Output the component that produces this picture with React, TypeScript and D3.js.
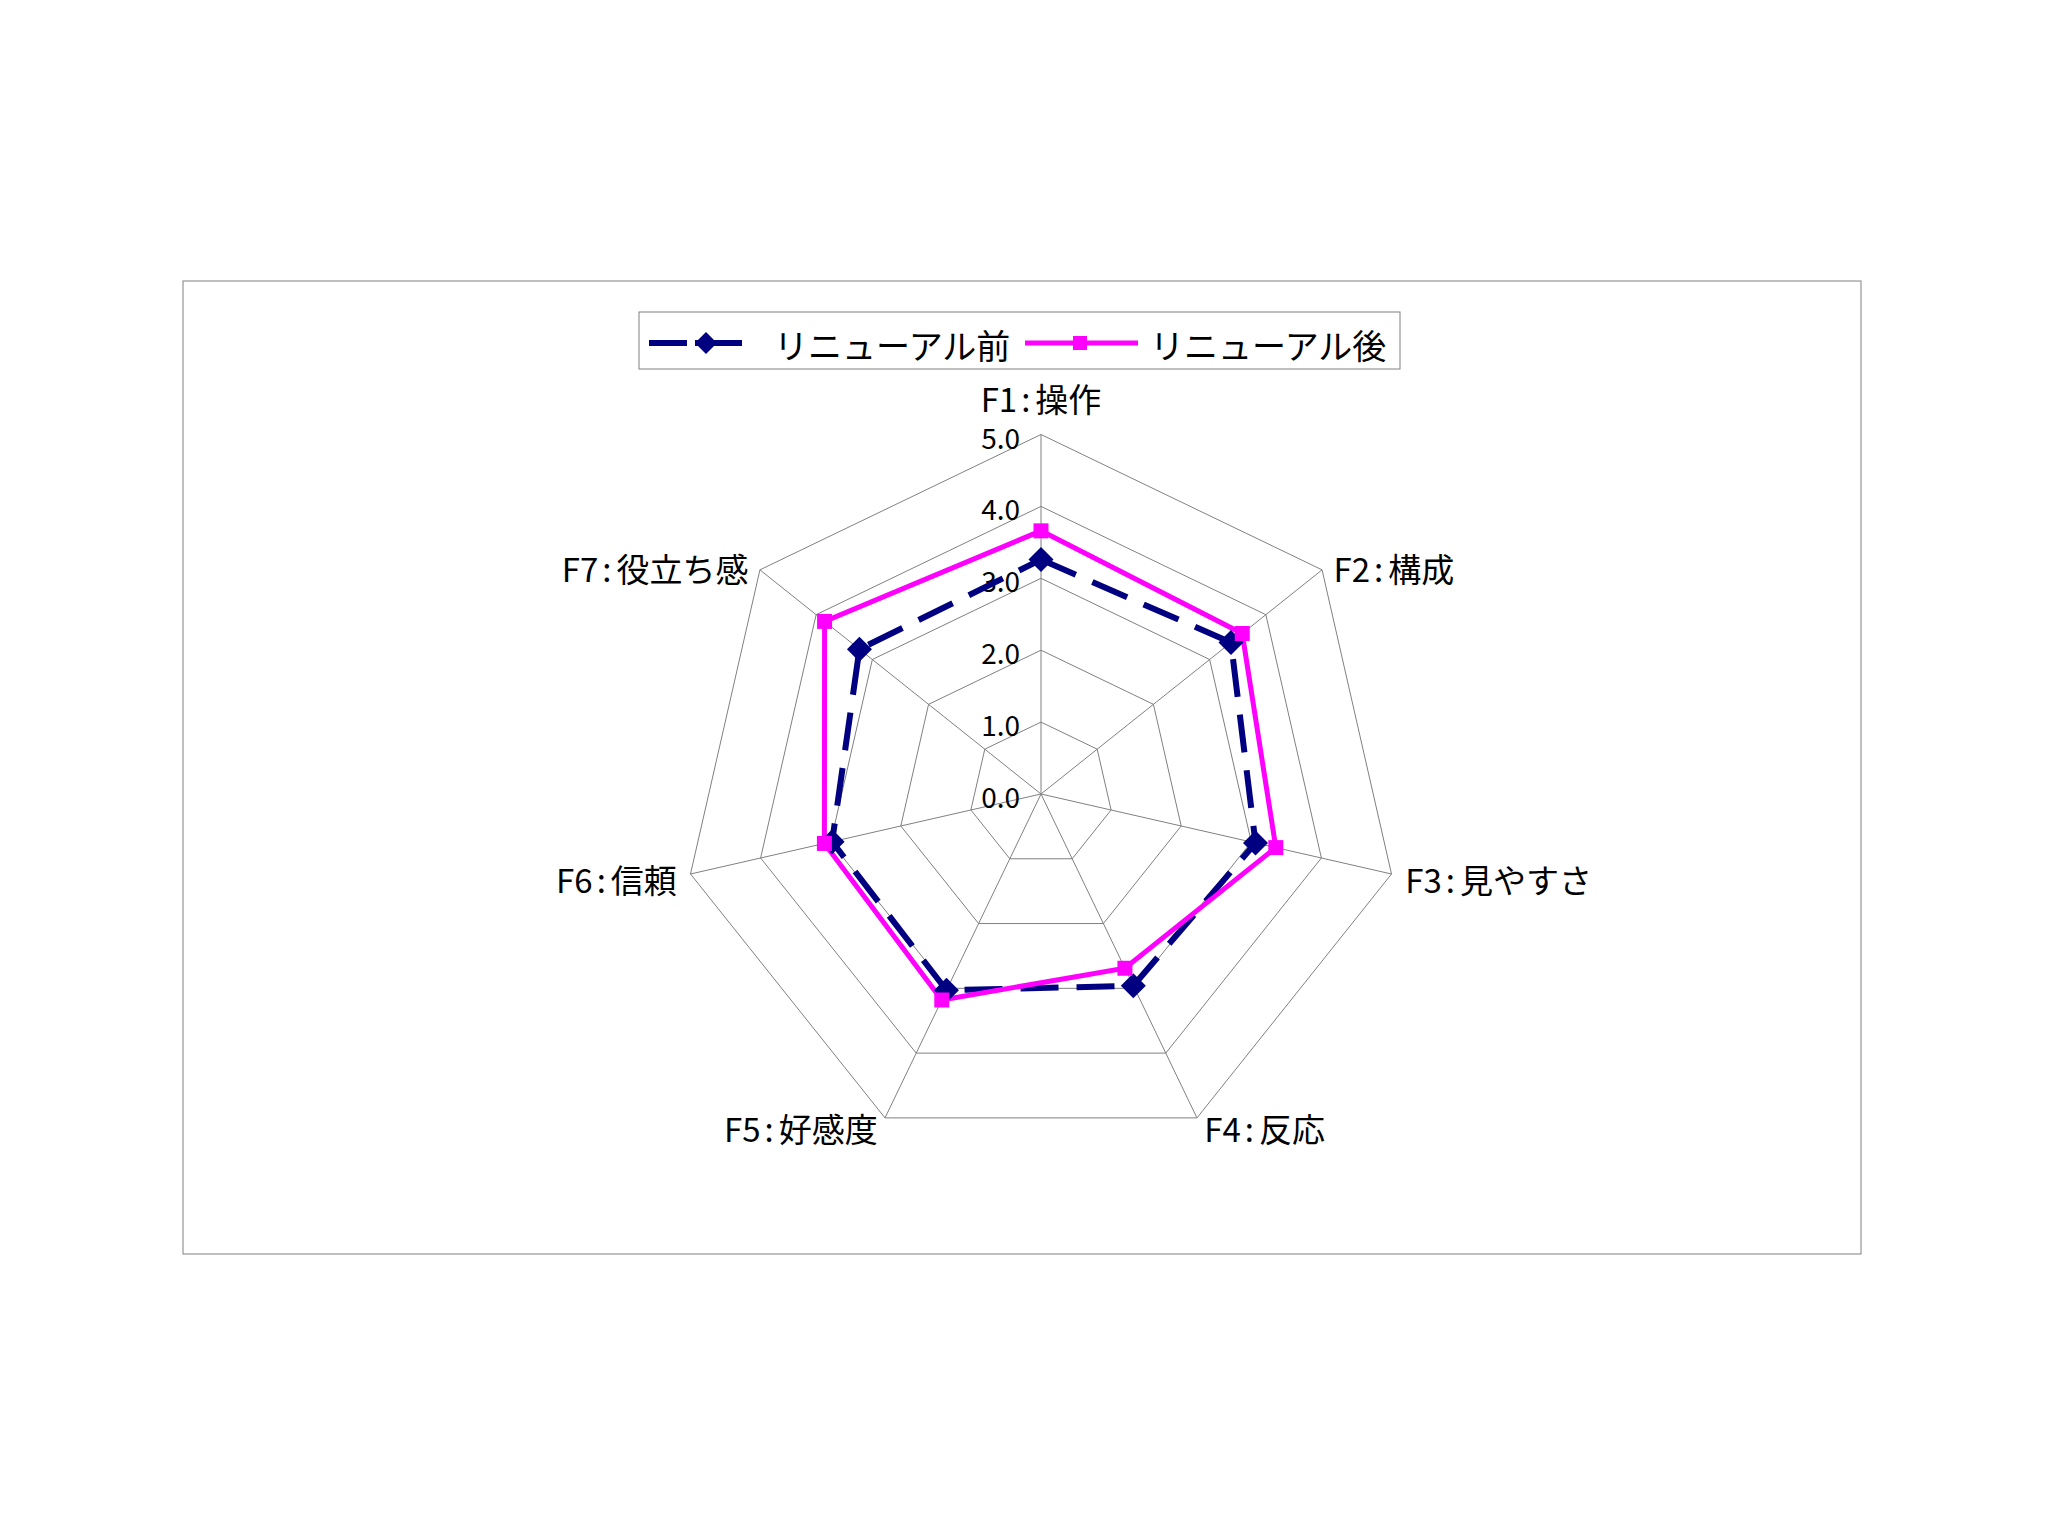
import * as d3 from "d3";

// values
const categories = ["F1:操作", "F2:構成", "F3:見やすさ", "F4:反応", "F5:好感度", "F6:信頼", "F7:役立ち感"];
const beforeValues = [3.26, 3.38, 3.06, 2.96, 3.03, 2.98, 3.23];
const afterValues = [3.66, 3.58, 3.35, 2.69, 3.18, 3.09, 3.85];
const seriesNames = ["リニューアル前", "リニューアル後"];
const tickValues = [0, 1, 2, 3, 4, 5];

const W = 2048,
  H = 1536;
const cx = 1041,
  cy = 794,
  R = 359.5;
const NAVY = "#000080",
  MAGENTA = "#FF00FF",
  GRID = "#808080";
const FONT = "'Noto Sans CJK JP', 'Noto Sans', sans-serif";

const n = categories.length;
const r = d3.scaleLinear().domain([0, 5]).range([0, R]);
const angle = d3
  .scaleLinear()
  .domain([0, n])
  .range([0, 2 * Math.PI]);

const pt = (i: number, v: number): [number, number] => {
  const a = angle(i);
  return [cx + Math.sin(a) * r(v), cy - Math.cos(a) * r(v)];
};

const radar = d3
  .lineRadial<number>()
  .angle((_, i) => angle(i))
  .radius((d) => r(d))
  .curve(d3.curveLinearClosed);

const diamond = d3.symbol(d3.symbolSquare, 312)();
const square = d3.symbol(d3.symbolSquare, 225)();
const diamondLegend = d3.symbol(d3.symbolSquare, 240)();
const squareLegend = d3.symbol(d3.symbolSquare, 196)();

// "F7:役立ち感" -> F7, then a spaced colon, then the name
function Label({ text }: { text: string }) {
  const [code, name] = text.split(":");
  return (
    <>
      {code}
      <tspan dx={4}>:</tspan>
      <tspan dx={5}>{name}</tspan>
    </>
  );
}

export default function App() {
  const idx = d3.range(n);
  return (
    <svg
      width={W}
      height={H}
      style={{ position: "absolute", left: 0, top: 0, background: "#fff" }}
      fontFamily={FONT}
    >
      <rect x={183} y={281} width={1678} height={973} fill="#fff" stroke={GRID} strokeWidth={1} />

      {/* grid */}
      <g transform={`translate(${cx},${cy})`} fill="none" stroke={GRID} strokeWidth={1}>
        {tickValues.slice(1).map((t) => (
          <path key={t} d={radar(idx.map(() => t)) ?? ""} />
        ))}
      </g>
      <g stroke={GRID} strokeWidth={1}>
        {idx.map((i) => {
          const [x, y] = pt(i, 5);
          return <line key={i} x1={cx} y1={cy} x2={x} y2={y} />;
        })}
      </g>

      {/* value ticks */}
      <g fontSize={28} textAnchor="end" fill="#000">
        {tickValues.map((t) => (
          <text key={t} x={cx - 21} y={cy - r(t) + 2} dominantBaseline="central">
            {t.toFixed(1)}
          </text>
        ))}
      </g>

      {/* category labels */}
      <g fontSize={33} fill="#000">
        {categories.map((c, i) => {
          const [vx, vy] = pt(i, 5);
          const s = Math.sin(angle(i));
          const co = Math.cos(angle(i));
          if (i === 0) {
            return (
              <text key={c} x={vx} y={vy - 37} textAnchor="middle" dominantBaseline="central">
                <Label text={c} />
              </text>
            );
          }
          const anchor = s > 0.1 ? "start" : s < -0.1 ? "end" : "middle";
          return (
            <text
              key={c}
              x={vx + s * 12 + Math.sign(s) * 2}
              y={vy - co * 8 + 3}
              textAnchor={anchor}
              dominantBaseline="central"
            >
              <Label text={c} />
            </text>
          );
        })}
      </g>

      {/* series */}
      <g transform={`translate(${cx},${cy})`} fill="none">
        <path d={radar(beforeValues) ?? ""} stroke={NAVY} strokeWidth={6} strokeDasharray="38 18" />
        <path d={radar(afterValues) ?? ""} stroke={MAGENTA} strokeWidth={5} strokeLinejoin="miter" />
      </g>
      <g fill={NAVY}>
        {beforeValues.map((v, i) => {
          const [x, y] = pt(i, v);
          return <path key={i} d={diamond ?? ""} transform={`translate(${x},${y}) rotate(45)`} />;
        })}
      </g>
      <g fill={MAGENTA}>
        {afterValues.map((v, i) => {
          const [x, y] = pt(i, v);
          return <path key={i} d={square ?? ""} transform={`translate(${x},${y})`} />;
        })}
      </g>

      {/* legend */}
      <g>
        <rect x={639} y={312} width={761} height={57} fill="#fff" stroke={GRID} strokeWidth={1} />
        <line x1={649} x2={742} y1={343} y2={343} stroke={NAVY} strokeWidth={6} strokeDasharray="38 8 60" />
        <path d={diamondLegend ?? ""} transform="translate(706,343) rotate(45)" fill={NAVY} />
        <text x={774} y={344} fontSize={34} dominantBaseline="central">
          {seriesNames[0]}
        </text>
        <line x1={1025} x2={1138} y1={343} y2={343} stroke={MAGENTA} strokeWidth={5} />
        <path d={squareLegend ?? ""} transform="translate(1080,343)" fill={MAGENTA} />
        <text x={1150} y={344} fontSize={34} dominantBaseline="central">
          {seriesNames[1]}
        </text>
      </g>
    </svg>
  );
}
